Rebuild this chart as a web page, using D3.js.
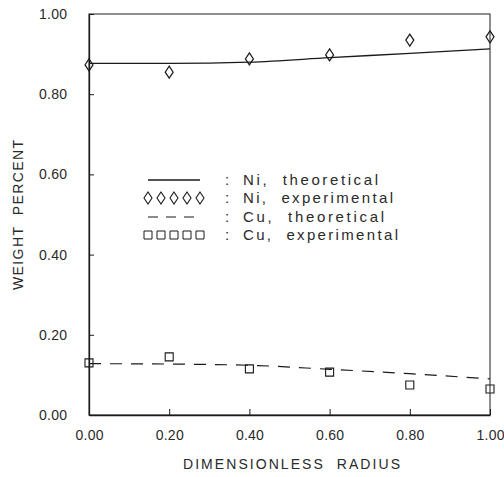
<!DOCTYPE html>
<html>
<head>
<meta charset="utf-8">
<script src="https://cdn.jsdelivr.net/npm/d3@7/dist/d3.min.js"></script>
<style>
  html, body { margin: 0; padding: 0; background: #fff; }
  svg text { font-family: "Liberation Sans", Arial, sans-serif; fill: #2a2a2a; white-space: pre; }
</style>
</head>
<body>
<svg id="chart" width="504" height="477"></svg>
<script>
// Radial composition profile: Ni and Cu weight fraction vs dimensionless radius
const radius = [0.0, 0.2, 0.4, 0.6, 0.8, 1.0];
const niTheory = [0.877, 0.877, 0.880, 0.891, 0.902, 0.913];
const niExp    = [0.873, 0.855, 0.888, 0.898, 0.935, 0.943];
const cuTheory = [0.128, 0.127, 0.124, 0.114, 0.103, 0.090];
const cuExp    = [0.130, 0.145, 0.115, 0.107, 0.075, 0.065];
const tickValues = [0.0, 0.2, 0.4, 0.6, 0.8, 1.0];
const legendLabels = ["Ni,  theoretical", "Ni,  experimental", "Cu,  theoretical", "Cu,  experimental"];
const xTitle = "DIMENSIONLESS  RADIUS";
const yTitle = "WEIGHT  PERCENT";

const svg = d3.select("#chart");
const m = { left: 89, right: 490, top: 14, bottom: 415 };

const x = d3.scaleLinear().domain([0, 1]).range([m.left, m.right]);
const y = d3.scaleLinear().domain([0, 1]).range([m.bottom, m.top]);

const ink = "#1a1a1a";

// Frame
svg.append("rect")
  .attr("x", m.left).attr("y", m.top)
  .attr("width", m.right - m.left).attr("height", m.bottom - m.top)
  .attr("fill", "none").attr("stroke", "#444").attr("stroke-width", 1.2);

// Axes with inward ticks; plotter-style wide numerals
const fmt = d3.format(".2f");
const xAxis = svg.append("g").attr("transform", `translate(0,${m.bottom})`)
  .call(d3.axisBottom(x).tickValues(tickValues).tickSizeInner(-6).tickSizeOuter(0).tickPadding(15).tickFormat(fmt));
const yAxis = svg.append("g").attr("transform", `translate(${m.left},0)`)
  .call(d3.axisLeft(y).tickValues(tickValues).tickSizeInner(-5).tickSizeOuter(0).tickPadding(22).tickFormat(fmt));
[xAxis, yAxis].forEach(g => {
  g.select(".domain").attr("stroke", ink).attr("stroke-width", 1.3);
  g.selectAll(".tick line").attr("stroke", ink).attr("stroke-width", 1);
  g.selectAll(".tick text").attr("font-size", 14).attr("fill", "#2a2a2a")
    .attr("textLength", 28).attr("lengthAdjust", "spacing")
    .style("font-family", "Liberation Sans, Arial, sans-serif");
});

// Axis titles
svg.append("text")
  .attr("x", 183).attr("y", 469)
  .attr("font-size", 14)
  .attr("textLength", 217).attr("lengthAdjust", "spacing")
  .text(xTitle);
svg.append("text")
  .attr("transform", `translate(23,290) rotate(-90)`)
  .attr("font-size", 14)
  .attr("textLength", 150).attr("lengthAdjust", "spacing")
  .text(yTitle);

// Symbols
const diamondPath = (cx, cy) => `M${cx},${cy - 6}L${cx + 4},${cy}L${cx},${cy + 6}L${cx - 4},${cy}Z`;
const squarePath = (cx, cy) => `M${cx - 4},${cy - 4}h8v8h-8Z`;

const line = d3.line().x(d => x(d[0])).y(d => y(d[1])).curve(d3.curveMonotoneX);

const plot = svg.append("g");
plot.append("path")
  .datum(radius.map((r, i) => [r, niTheory[i]]))
  .attr("d", line).attr("fill", "none").attr("stroke", ink).attr("stroke-width", 1.3);
plot.append("path")
  .datum(radius.map((r, i) => [r, cuTheory[i]]))
  .attr("d", line).attr("fill", "none").attr("stroke", ink).attr("stroke-width", 1.2)
  .attr("stroke-dasharray", "12,9");

plot.selectAll(".ni").data(radius.map((r, i) => [r, niExp[i]])).join("path")
  .attr("class", "ni")
  .attr("d", d => diamondPath(x(d[0]), y(d[1])))
  .attr("fill", "none").attr("stroke", ink).attr("stroke-width", 1.2);
plot.selectAll(".cu").data(radius.map((r, i) => [r, cuExp[i]])).join("path")
  .attr("class", "cu")
  .attr("d", d => squarePath(x(d[0]), y(d[1])))
  .attr("fill", "none").attr("stroke", ink).attr("stroke-width", 1.1);

// Legend
const lg = svg.append("g");
const rowY = [180, 198, 217, 235];
const rowWidth = [135, 150, 141, 155];
const sx0 = 148, sx1 = 200;
lg.append("line").attr("x1", sx0).attr("x2", sx1).attr("y1", rowY[0]).attr("y2", rowY[0])
  .attr("stroke", ink).attr("stroke-width", 1.3);
lg.append("line").attr("x1", sx0).attr("x2", sx1).attr("y1", rowY[2]).attr("y2", rowY[2])
  .attr("stroke", ink).attr("stroke-width", 1.2).attr("stroke-dasharray", "10,8");
d3.range(5).forEach(k => {
  const cx = sx0 + k * (sx1 - sx0) / 4;
  lg.append("path").attr("d", diamondPath(cx, rowY[1])).attr("fill", "none").attr("stroke", ink).attr("stroke-width", 1.1);
  lg.append("path").attr("d", squarePath(cx, rowY[3])).attr("fill", "none").attr("stroke", ink).attr("stroke-width", 1);
});
legendLabels.forEach((t, i) => {
  lg.append("text").attr("x", 225).attr("y", rowY[i] + 5).attr("font-size", 15).text(":");
  lg.append("text").attr("x", 243).attr("y", rowY[i] + 5).attr("font-size", 15)
    .attr("textLength", rowWidth[i]).attr("lengthAdjust", "spacing").text(t);
});
</script>
</body>
</html>
